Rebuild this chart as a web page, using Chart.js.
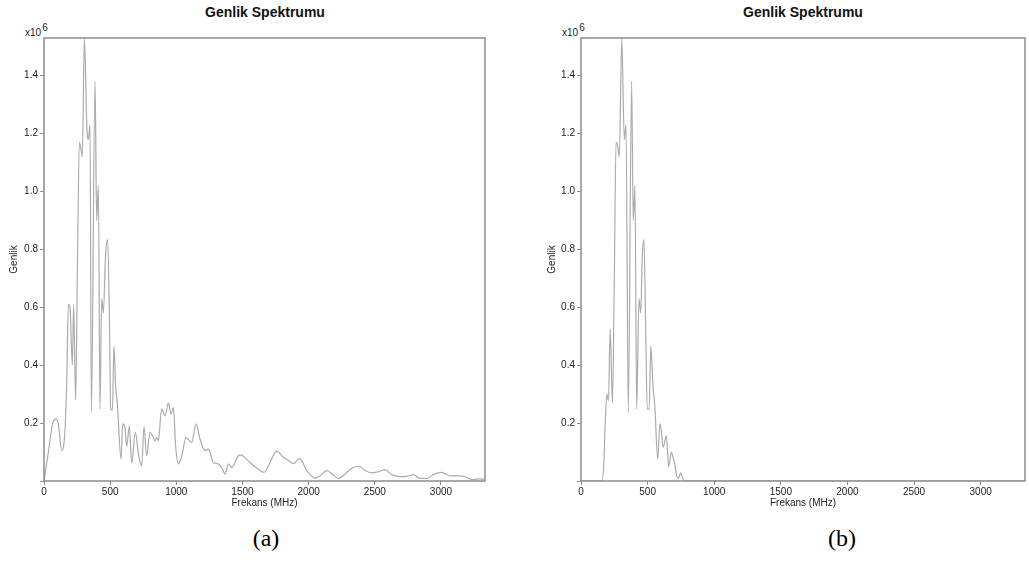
<!DOCTYPE html>
<html>
<head>
<meta charset="utf-8">
<script src="https://cdn.jsdelivr.net/npm/chart.js@4"></script>
<style>
  body { margin: 0; width: 1029px; height: 561px; background: #fff; position: relative; overflow: hidden;
         font-family: "Liberation Sans", Arial, sans-serif; }
  canvas { position: absolute; top: 0; }
  .title { position: absolute; top: 4px; font-weight: bold; font-size: 14px; color: #111;
           transform: translateX(-50%); white-space: nowrap; }
  .mult { position: absolute; top: 23px; font-size: 10px; line-height: 12px; color: #222; }
  .mult sup { font-size: 10px; position: relative; top: -1px; margin-left: 1px; }
  .caption { position: absolute; top: 524px; font-family: "Liberation Serif", "Times New Roman", serif;
             font-size: 24px; line-height: 28px; color: #000; transform: translateX(-50%); }
</style>
</head>
<body>
<div class="title" style="left:265px">Genlik Spektrumu</div>
<div class="title" style="left:803px">Genlik Spektrumu</div>
<div class="mult" style="left:25px">x10<sup>6</sup></div>
<div class="mult" style="left:562px">x10<sup>6</sup></div>
<canvas id="chartA" width="500" height="511" style="left:0px"></canvas>
<canvas id="chartB" width="490" height="511" style="left:537px"></canvas>
<div class="caption" style="left:266px">(a)</div>
<div class="caption" style="left:842px">(b)</div>
<script>
// amplitude in units of 10^6, frequency in MHz
var freqA = [0, 30, 66, 91, 108, 134, 159, 172, 184, 196, 214, 224, 239, 253, 267, 274, 290, 305, 325, 335, 348, 358,
  386, 398, 411, 423, 436, 449, 465, 481, 495, 504, 517, 529, 541, 554, 582, 595, 610, 625, 645, 663, 690, 715, 738,
  756, 776, 801, 821, 839, 852, 864, 889, 915, 940, 960, 978, 995, 1016, 1041, 1074, 1116, 1149, 1179, 1217, 1242,
  1280, 1318, 1345, 1368, 1394, 1419, 1469, 1490, 1520, 1557, 1608, 1663, 1708, 1759, 1809, 1850, 1885, 1930, 1986,
  2049, 2087, 2137, 2187, 2225, 2276, 2326, 2384, 2427, 2477, 2528, 2578, 2628, 2691, 2742, 2792, 2842, 2893, 2943,
  3006, 3069, 3132, 3195, 3233, 3283, 3333];
var ampA = [0, 0.09, 0.20, 0.214, 0.197, 0.105, 0.18, 0.35, 0.61, 0.60, 0.40, 0.61, 0.28, 0.75, 1.17, 1.16, 1.12, 1.53,
  1.21, 1.18, 1.23, 0.237, 1.38, 0.90, 1.02, 0.248, 0.63, 0.58, 0.78, 0.835, 0.55, 0.248, 0.245, 0.467, 0.33, 0.27,
  0.076, 0.197, 0.19, 0.12, 0.19, 0.062, 0.168, 0.09, 0.053, 0.188, 0.087, 0.168, 0.156, 0.139, 0.15, 0.139, 0.248,
  0.225, 0.27, 0.231, 0.254, 0.12, 0.059, 0.087, 0.15, 0.133, 0.197, 0.145, 0.105, 0.11, 0.064, 0.059, 0.045, 0.024,
  0.059, 0.047, 0.087, 0.09, 0.08, 0.064, 0.045, 0.03, 0.064, 0.103, 0.082, 0.07, 0.06, 0.078, 0.036, 0.010, 0.018,
  0.036, 0.021, 0.009, 0.024, 0.044, 0.051, 0.036, 0.028, 0.032, 0.039, 0.022, 0.015, 0.016, 0.022, 0.009, 0.009,
  0.022, 0.030, 0.018, 0.018, 0.013, 0.004, 0.007, 0.006];

var freqB = [0, 157, 170, 182, 194, 206, 219, 236, 250, 263, 275, 288, 306, 325, 338, 355, 380, 392, 405, 418, 435, 448,
  460, 472, 485, 497, 512, 524, 540, 554, 576, 592, 604, 616, 641, 658, 679, 692, 704, 718, 733, 748, 762, 778, 3333];
var ampB = [0, 0, 0.05, 0.2, 0.30, 0.277, 0.524, 0.27, 0.7, 1.17, 1.16, 1.12, 1.53, 1.18, 1.23, 0.237, 1.38, 0.90, 1.02,
  0.248, 0.63, 0.58, 0.78, 0.835, 0.55, 0.248, 0.248, 0.467, 0.33, 0.26, 0.076, 0.197, 0.17, 0.116, 0.156, 0.05,
  0.099, 0.08, 0.059, 0.018, 0.01, 0.028, 0.01, 0, 0];

var xTicks = [0, 500, 1000, 1500, 2000, 2500, 3000];
var yTicks = [0, 0.2, 0.4, 0.6, 0.8, 1.0, 1.2, 1.4];
var xMax = 3333;
var yMax = 1.53;

var axisColor = '#8c8c8c';
var textColor = '#222';
var fontFamily = '"Liberation Sans", Arial, sans-serif';

// box around the plot area
var frame = {
  id: 'frame',
  afterDraw: function (chart) {
    var c = chart.ctx, a = chart.chartArea;
    c.save();
    c.strokeStyle = axisColor;
    c.lineWidth = 1.5;
    c.strokeRect(a.left, a.top, a.right - a.left, a.bottom - a.top);
    c.restore();
  }
};

function makeChart(id, freqs, amps, rightPad, titlePad) {
  var points = freqs.map(function (f, i) { return { x: f, y: amps[i] }; });
  return new Chart(document.getElementById(id).getContext('2d'), {
    type: 'line',
    data: {
      datasets: [{
        data: points,
        borderColor: '#ababab',
        borderWidth: 1.2,
        pointRadius: 0,
        cubicInterpolationMode: 'monotone',
        fill: false
      }]
    },
    options: {
      responsive: false,
      animation: false,
      layout: { padding: { top: 38, right: rightPad, left: 0, bottom: 0 } },
      plugins: { legend: { display: false }, tooltip: { enabled: false } },
      scales: {
        x: {
          type: 'linear', min: 0, max: xMax,
          afterFit: function (s) { s.height = 30; },
          afterBuildTicks: function (s) { s.ticks = xTicks.map(function (v) { return { value: v }; }); },
          grid: { drawOnChartArea: false, drawTicks: true, tickLength: 4, color: axisColor },
          border: { display: false },
          ticks: {
            color: textColor, font: { size: 10, family: fontFamily }, padding: 1, maxRotation: 0, autoSkip: false,
            callback: function (v) { return String(v); }
          },
          title: { display: true, text: 'Frekans (MHz)', color: textColor, font: { size: 10, family: fontFamily },
                   padding: { top: 0, bottom: 2 } }
        },
        y: {
          min: 0, max: yMax,
          afterFit: function (s) { s.width = 44; },
          afterBuildTicks: function (s) { s.ticks = yTicks.map(function (v) { return { value: v }; }); },
          grid: { drawOnChartArea: false, drawTicks: true, tickLength: 4, color: axisColor },
          border: { display: false },
          ticks: {
            color: textColor, font: { size: 10, family: fontFamily }, padding: 2,
            callback: function (v) { return v === 0 ? '' : v.toFixed(1); }
          },
          title: { display: true, text: 'Genlik', color: textColor, font: { size: 10, family: fontFamily },
                   padding: { top: titlePad, bottom: 0 } }
        }
      }
    },
    plugins: [frame]
  });
}

makeChart('chartA', freqA, ampA, 15, 8);
makeChart('chartB', freqB, ampB, 2, 9);
</script>
</body>
</html>
